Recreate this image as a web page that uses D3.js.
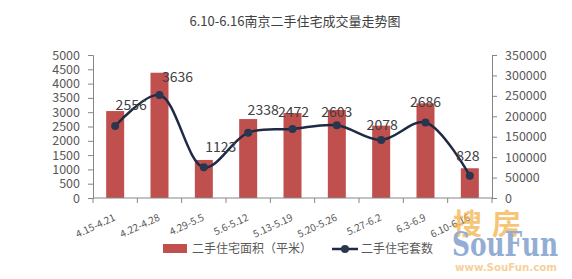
<!DOCTYPE html>
<meta charset="utf-8">
<script src="https://d3js.org/d3.v7.min.js"></script>
<style>
  body { margin: 0; background: #fff; }
</style>
<svg id="chart" width="572" height="279" font-family="Noto Sans CJK SC, Open Sans, sans-serif"></svg>
<script>
// data
const weeks = ["4.15-4.21", "4.22-4.28", "4.29-5.5", "5.6-5.12", "5.13-5.19", "5.20-5.26", "5.27-6.2", "6.3-6.9", "6.10-6.16"];
const area = [3040, 4380, 1330, 2760, 2970, 3080, 2530, 3310, 1040];       // 二手住宅面积 (left axis)
const setsPlotted = [176000, 252000, 75000, 160000, 169000, 178000, 142000, 185000, 54600]; // line on right axis
const setsLabel = [2556, 3636, 1123, 2338, 2472, 2603, 2078, 2686, 828];
const leftTicks = d3.range(0, 5001, 500);
const rightTicks = d3.range(0, 350001, 50000);

// label nudges (as placed in the original)
const labelDx = [16, 18, 17, 15, 1, 0, 1, 0, -2];
const labelDy = [-21, -18, -20, -23, -17, -13, -15, -20, -20];

const svg = d3.select("#chart");
const x0 = 93, x1 = 492, yTop = 55, yBot = 198;
const axisColor = "#868686", textColor = "#595959";

const x = d3.scaleBand().domain(weeks).range([x0, x1]);
const yL = d3.scaleLinear().domain([0, 5000]).range([yBot, yTop]);
const yR = d3.scaleLinear().domain([0, 350000]).range([yBot, yTop]);

// title
svg.append("text")
  .attr("x", 295).attr("y", 26)
  .attr("text-anchor", "middle")
  .attr("font-size", 13).attr("fill", "#404040")
  .text("6.10-6.16南京二手住宅成交量走势图");

// bars
svg.append("g").selectAll("rect")
  .data(area)
  .join("rect")
    .attr("x", (d, i) => x(weeks[i]) + x.bandwidth() / 2 - 9)
    .attr("width", 18)
    .attr("y", d => yL(d))
    .attr("height", d => yBot - yL(d))
    .attr("fill", "#c0504d");

// left axis
const gl = svg.append("g").attr("transform", `translate(${x0},0)`)
  .call(d3.axisLeft(yL).tickValues(leftTicks).tickFormat(d3.format("d")).tickSize(5).tickPadding(8));
// right axis
const gr = svg.append("g").attr("transform", `translate(${x1},0)`)
  .call(d3.axisRight(yR).tickValues(rightTicks).tickFormat(d3.format("d")).tickSize(5).tickPadding(8));
[gl, gr].forEach(g => {
  g.attr("font-family", null).attr("font-size", null);
  g.select(".domain").attr("stroke", axisColor);
  g.selectAll(".tick line").attr("stroke", axisColor);
  g.selectAll(".tick text").attr("fill", textColor).attr("font-size", 12.5);
});

// x axis line + boundary ticks
const gx = svg.append("g");
gx.append("line").attr("x1", x0).attr("x2", x1).attr("y1", yBot).attr("y2", yBot).attr("stroke", axisColor);
gx.selectAll("line.tk")
  .data(weeks.concat(["end"]))
  .join("line").attr("class", "tk")
    .attr("x1", (d, i) => x0 + i * x.step()).attr("x2", (d, i) => x0 + i * x.step())
    .attr("y1", yBot).attr("y2", yBot + 5)
    .attr("stroke", axisColor);
gx.selectAll("text")
  .data(weeks)
  .join("text")
    .attr("transform", d => `translate(${x(d) + x.bandwidth() / 2 + 1},${yBot + 22}) rotate(-25)`)
    .attr("text-anchor", "end")
    .attr("font-size", 10)
    .attr("fill", textColor)
    .text(d => d);

// line
const pts = setsPlotted.map((v, i) => [x(weeks[i]) + x.bandwidth() / 2, yR(v)]);
svg.append("path")
  .datum(pts)
  .attr("d", d3.line().curve(d3.curveCatmullRom.alpha(0.5)))
  .attr("fill", "none")
  .attr("stroke", "#1f2b45")
  .attr("stroke-width", 2.5);
svg.append("g").selectAll("circle")
  .data(pts)
  .join("circle")
    .attr("cx", d => d[0]).attr("cy", d => d[1]).attr("r", 4)
    .attr("fill", "#2a3550");

// data labels
svg.append("g").selectAll("text")
  .data(setsLabel)
  .join("text")
    .attr("x", (d, i) => pts[i][0] + labelDx[i])
    .attr("y", (d, i) => pts[i][1] + labelDy[i] + 5)
    .attr("text-anchor", "middle")
    .attr("font-size", 14)
    .attr("fill", "#404040")
    .text(d => d);

// legend
const lg = svg.append("g");
lg.append("rect").attr("x", 163).attr("y", 244).attr("width", 24).attr("height", 9).attr("fill", "#c0504d");
lg.append("text").attr("x", 192).attr("y", 253).attr("font-size", 12).attr("fill", textColor).text("二手住宅面积（平米）");
lg.append("line").attr("x1", 332).attr("x2", 358).attr("y1", 249).attr("y2", 249)
  .attr("stroke", "#1f2b45").attr("stroke-width", 2.5);
lg.append("circle").attr("cx", 345).attr("cy", 249).attr("r", 4).attr("fill", "#2a3550");
lg.append("text").attr("x", 361).attr("y", 253).attr("font-size", 12).attr("fill", textColor).text("二手住宅套数");

// watermark
const wm = svg.append("g").attr("opacity", 0.75);
wm.append("text").attr("x", 453).attr("y", 235).attr("font-size", 29).attr("font-weight", "bold")
  .attr("fill", "#f3b24a").attr("letter-spacing", 10).text("搜房");
wm.append("text").attr("x", 452).attr("y", 256).attr("font-size", 34).attr("font-weight", "bold")
  .attr("font-family", "DejaVu Serif, serif").attr("fill", "#6f93c8")
  .attr("textLength", 106).attr("lengthAdjust", "spacingAndGlyphs").text("SouFun");
wm.append("text").attr("x", 455).attr("y", 271).attr("font-size", 10).attr("font-weight", "bold")
  .attr("font-family", "DejaVu Sans, sans-serif").attr("fill", "#f3c27a")
  .attr("textLength", 102).attr("lengthAdjust", "spacingAndGlyphs").text("www.SouFun.com");
</script>
